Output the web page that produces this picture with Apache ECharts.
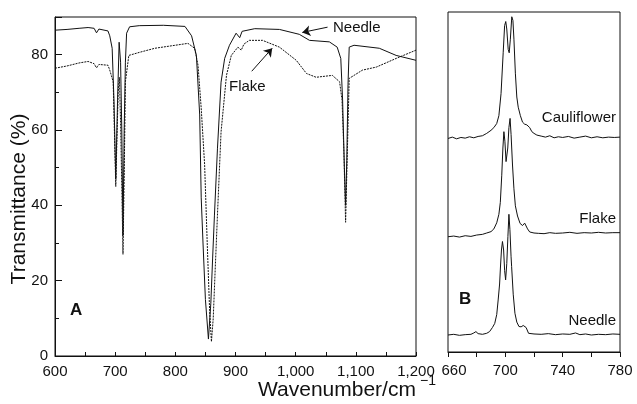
<!DOCTYPE html>
<html>
<head>
<meta charset="utf-8">
<script src="https://cdn.jsdelivr.net/npm/echarts@6/dist/echarts.min.js"></script>
<style>
  html, body { margin: 0; padding: 0; background: #fff; }
  #chart { width: 637px; height: 404px; }
</style>
</head>
<body>
<div id="chart"></div>
<script>
// ---- Panel A: IR transmittance (%) vs wavenumber ----
const needleA_wn = [600, 620, 640, 655, 665, 669, 673, 688, 691, 695, 698, 701, 704, 706.6, 709, 711, 713, 715, 717, 719, 724, 740, 780, 816, 827, 835, 840.5, 843, 846, 850, 855, 859, 862, 865, 870, 876, 882, 890, 901, 907, 911, 932, 973, 1006, 1023, 1056, 1069, 1075, 1078, 1081, 1083, 1085, 1087, 1089, 1097, 1139, 1167, 1200];
const needleA_t  = [86.5, 86.7, 87.0, 87.2, 87.0, 85.8, 86.8, 86.3, 85.0, 81.7, 68, 47, 68, 83.3, 78, 60, 32, 60, 78, 85.7, 87.4, 87.7, 87.8, 87.5, 85.0, 79.8, 64, 42, 30, 15, 4.5, 14, 26, 37.4, 55, 72.7, 79, 82.5, 85.7, 84.5, 86.2, 86.9, 86.7, 85.4, 83.8, 83.4, 82.0, 79, 68, 50, 40, 52, 72, 82.0, 82.5, 81.7, 79.8, 78.5];

const flakeA_wn = [600, 620, 640, 655, 665, 669, 673, 688, 691, 696.7, 699, 701, 703, 705, 707, 709, 711, 713, 715, 717, 722.7, 740, 766, 800, 821, 832, 837.7, 843, 848.7, 853, 857, 860, 863, 866, 870, 876, 885, 893, 904, 909.6, 914, 923, 945, 973, 1001, 1018, 1034, 1061, 1073, 1077, 1080, 1083, 1086, 1089, 1111, 1134, 1167, 1200];
const flakeA_t  = [76.4, 77.0, 77.8, 78.2, 77.6, 76.5, 77.4, 77.2, 75.9, 72.8, 58, 45, 58, 70, 74, 62, 45, 27, 48, 72.8, 79.8, 80.6, 81.7, 82.5, 83.0, 81.7, 77.2, 65.8, 50.7, 30, 12, 3.8, 10, 22, 37.4, 59.5, 74.5, 79.8, 82.0, 81.2, 82.8, 83.8, 83.8, 82.0, 78.5, 75.0, 74.0, 74.5, 72.8, 68, 55, 35.5, 55, 73.7, 75.9, 76.7, 79.0, 81.2];

// ---- Panel B: Raman spectra, offset traces (arbitrary units, 0-100) ----
const caulB_wn = [660, 663, 666, 669, 672, 675, 678, 681, 684, 687, 690, 692, 694, 695.5, 697, 698.5, 699.5, 700.3, 701, 702, 702.7, 703.5, 704.5, 705.3, 706, 707, 708, 709, 710.5, 712, 713.5, 715, 716, 717, 718.5, 720, 722, 725, 728, 731, 734, 737, 740, 744, 748, 752, 756, 760, 764, 768, 772, 776, 780];
const caulB_i  = [62.8, 63.2, 62.7, 63.1, 62.9, 63.3, 63.0, 63.4, 63.6, 64.3, 65.2, 66.0, 67.2, 69.5, 76, 88, 96, 97.2, 95, 89, 88, 92, 98.6, 97.5, 92, 82, 75, 72, 69.5, 67.6, 67.0, 66.8, 67.1, 66.0, 64.8, 64.3, 63.8, 63.5, 63.2, 63.6, 63.0, 63.3, 63.1, 63.4, 62.9, 63.2, 63.5, 63.0, 63.3, 63.0, 63.2, 63.1, 63.2];

const flakeB_wn = [660, 664, 668, 672, 676, 680, 684, 687, 690, 692, 694, 695.5, 696.5, 697.5, 698.3, 699, 699.7, 700.5, 701, 701.7, 702.5, 703.3, 704, 705, 706, 707, 708.5, 710.3, 712, 713.5, 714.5, 715.5, 717, 720, 723, 727, 731, 735, 740, 745, 750, 755, 760, 765, 770, 775, 780];
const flakeB_i  = [33.9, 34.1, 33.8, 34.2, 34.0, 34.4, 34.6, 35.0, 35.4, 36.2, 38.0, 40.5, 44, 52, 60, 64.8, 62, 56, 55.5, 60, 66, 68.7, 64, 55, 48, 43, 40, 37.8, 37.2, 37.9, 37.6, 36.2, 35.3, 35.0, 34.9, 34.8, 35.1, 34.9, 35.0, 35.2, 34.9, 35.1, 35.0, 35.2, 35.0, 35.1, 35.1];

const needleB_wn = [660, 664, 668, 672, 676, 678, 679.5, 681, 684, 687, 689, 691, 692.6, 694, 695, 696, 696.6, 697.3, 698, 698.8, 699.5, 700.2, 701, 701.8, 702.5, 703.2, 704, 704.4, 705.5, 706.7, 708, 709.5, 711, 712.5, 713.3, 714.5, 716.2, 720, 725, 730, 735, 740, 745, 749, 752, 756, 760, 765, 770, 775, 780];
const needleB_i  = [5.0, 5.2, 4.9, 5.1, 5.2, 5.6, 6.0, 5.4, 5.2, 5.5, 6.0, 7.2, 8.4, 11, 15.3, 20, 25, 30, 32.5, 30, 24, 21.2, 26, 34, 40.5, 36, 28, 25.1, 17, 11.4, 8.8, 7.5, 7.4, 7.8, 8.0, 7.2, 5.5, 5.3, 5.2, 5.4, 5.1, 5.3, 5.2, 5.6, 5.1, 5.3, 5.0, 5.2, 5.1, 5.3, 5.2];

// annotation arrows (data coords of panel A): [from, to]
const needleArrow = [[1053, 87.3], [1011, 85.9]];
const flakeArrow  = [[927, 75.6], [961, 81.7]];

const zip = (xs, ys) => xs.map((x, i) => [x, ys[i]]);

const FONT = '"Liberation Sans", Arial, Helvetica, sans-serif';
const INK = '#111';

const chart = echarts.init(document.getElementById('chart'));

const tickLabel = { color: INK, fontFamily: FONT, fontSize: 15 };

const option = {
  backgroundColor: '#fff',
  animation: false,
  grid: [
    { left: 55, top: 17, width: 361, height: 339, show: true, borderColor: INK, borderWidth: 1 },
    { left: 448, top: 12, width: 172, height: 340, show: true, borderColor: INK, borderWidth: 1 }
  ],
  xAxis: [
    {
      gridIndex: 0, type: 'value', min: 600, max: 1200, interval: 100,
      axisLine: { lineStyle: { color: INK } },
      axisTick: { inside: true, length: 4, lineStyle: { color: INK } },
      minorTick: { show: true, splitNumber: 2, length: 4, lineStyle: { color: INK } },
      splitLine: { show: false },
      axisLabel: {
        ...tickLabel, margin: 8,
        formatter: v => v >= 1000 ? Math.floor(v / 1000) + ',' + String(v % 1000).padStart(3, '0') : String(v)
      }
    },
    {
      gridIndex: 1, type: 'value', min: 660, max: 780, interval: 40,
      axisLine: { lineStyle: { color: INK } },
      axisTick: { inside: false, length: 5, lineStyle: { color: INK } },
      minorTick: { show: true, splitNumber: 2, length: 5, lineStyle: { color: INK } },
      splitLine: { show: false },
      axisLabel: {
        ...tickLabel, margin: 11,
        formatter: v => v === 660 ? '{first|660}' : String(v),
        rich: { first: { fontFamily: FONT, fontSize: 15, color: INK, padding: [0, 0, 0, 12] } }
      }
    }
  ],
  yAxis: [
    {
      gridIndex: 0, type: 'value', min: 0, max: 90, interval: 20,
      axisLine: { show: true, lineStyle: { color: INK } },
      axisTick: { show: true, inside: true, length: 7, lineStyle: { color: INK } },
      minorTick: { show: true, splitNumber: 2, length: 4, lineStyle: { color: INK } },
      splitLine: { show: false },
      axisLabel: { ...tickLabel, margin: 7, showMaxLabel: false }
    },
    {
      gridIndex: 1, type: 'value', min: 0, max: 100, show: false
    }
  ],
  series: [
    {
      name: 'Needle A', type: 'line', xAxisIndex: 0, yAxisIndex: 0,
      data: zip(needleA_wn, needleA_t), showSymbol: false,
      lineStyle: { color: INK, width: 1 },
      markLine: {
        silent: true, symbol: ['none', 'arrow'], symbolSize: 8,
        lineStyle: { color: INK, width: 1, type: 'solid' },
        label: { show: false },
        data: [
          [{ coord: needleArrow[0] }, { coord: needleArrow[1] }],
          [{ coord: flakeArrow[0] }, { coord: flakeArrow[1] }]
        ]
      }
    },
    {
      name: 'Flake A', type: 'line', xAxisIndex: 0, yAxisIndex: 0,
      data: zip(flakeA_wn, flakeA_t), showSymbol: false,
      lineStyle: { color: INK, width: 1, type: [2, 1] }
    },
    {
      name: 'Cauliflower B', type: 'line', xAxisIndex: 1, yAxisIndex: 1,
      data: zip(caulB_wn, caulB_i), showSymbol: false,
      lineStyle: { color: INK, width: 1 }
    },
    {
      name: 'Flake B', type: 'line', xAxisIndex: 1, yAxisIndex: 1,
      data: zip(flakeB_wn, flakeB_i), showSymbol: false,
      lineStyle: { color: INK, width: 1 }
    },
    {
      name: 'Needle B', type: 'line', xAxisIndex: 1, yAxisIndex: 1,
      data: zip(needleB_wn, needleB_i), showSymbol: false,
      lineStyle: { color: INK, width: 1 }
    }
  ],
  graphic: [
    { type: 'text', x: 19, y: 199, rotation: Math.PI / 2,
      style: { text: 'Transmittance (%)', font: '21px ' + FONT, fill: INK, align: 'center', verticalAlign: 'middle' } },
    { type: 'text', x: 258, y: 390,
      style: { text: 'Wavenumber/cm', font: '21px ' + FONT, fill: INK, align: 'left', verticalAlign: 'middle' } },
    { type: 'text', x: 420, y: 381,
      style: { text: '\u22121', font: '14px ' + FONT, fill: INK, align: 'left', verticalAlign: 'middle' } },
    { type: 'text', x: 333, y: 28,
      style: { text: 'Needle', font: '15px ' + FONT, fill: INK, align: 'left', verticalAlign: 'middle' } },
    { type: 'text', x: 229, y: 87,
      style: { text: 'Flake', font: '15px ' + FONT, fill: INK, align: 'left', verticalAlign: 'middle' } },
    { type: 'text', x: 70, y: 310,
      style: { text: 'A', font: 'bold 17px ' + FONT, fill: INK, align: 'left', verticalAlign: 'middle' } },
    { type: 'text', x: 616, y: 118,
      style: { text: 'Cauliflower', font: '15px ' + FONT, fill: INK, align: 'right', verticalAlign: 'middle' } },
    { type: 'text', x: 616, y: 219,
      style: { text: 'Flake', font: '15px ' + FONT, fill: INK, align: 'right', verticalAlign: 'middle' } },
    { type: 'text', x: 616, y: 321,
      style: { text: 'Needle', font: '15px ' + FONT, fill: INK, align: 'right', verticalAlign: 'middle' } },
    { type: 'text', x: 459, y: 299,
      style: { text: 'B', font: 'bold 17px ' + FONT, fill: INK, align: 'left', verticalAlign: 'middle' } }
  ]
};

chart.setOption(option);
</script>
</body>
</html>
